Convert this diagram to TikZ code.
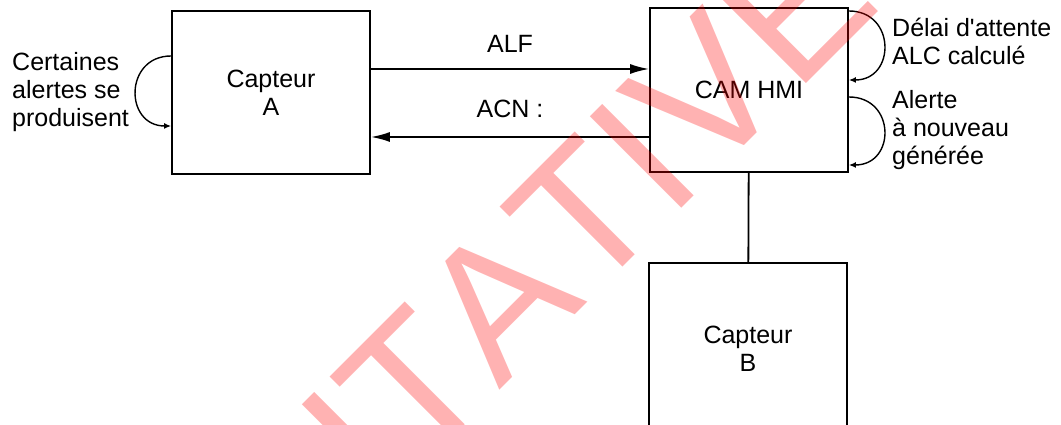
\documentclass[tikz,border=0pt]{standalone}
\usepackage{fontspec}
\setmainfont{Liberation Sans}
\newfontfamily\stampfont[Kerning=Off]{Liberation Sans}
\usepackage{tikz}
\usetikzlibrary{
  arrows.meta,
  positioning,
  calc
}
\tikzset{>={Latex[length=19pt, width=10pt]}}
\tikzset{font=\fontsize{25pt}{28pt}\selectfont}
\tikzset{sensorbox/.style={draw, line width=1.8pt, minimum width=198pt,
    minimum height=163pt, align=center, inner sep=0pt}}
\tikzset{looparrow/.style={line width=1.4pt, -{Latex[length=7pt, width=6pt]}}}
\tikzset{loopnote/.style={anchor=north west, align=left, inner sep=0pt}}
\tikzset{stamp/.style={text=red, text opacity=0.3, rotate=45, anchor=base west,
    inner sep=0pt, font=\stampfont\fontsize{188pt}{188pt}\selectfont}}

\begin{document}
\begin{tikzpicture}[x=1pt, y=1pt]
  \useasboundingbox (0, 0) rectangle (1061, 425);%
  \clip (0, 0) rectangle (1061, 425);%
  \node [sensorbox] (capA) at (271, 332.5) {Capteur\\A};%
  \node [sensorbox, minimum height=164pt] (cam) at (749, 335) {CAM HMI};%
  \node [sensorbox, minimum height=171pt] (capB) at (748, 76.5) {Capteur\\B};%
  \draw [line width=1.8pt] (cam) -- (capB);%
  % messages between the sensor and the HMI
  \draw [->, line width=1.8pt] ([yshift=23.5pt]capA.east) -- node[above=16pt, inner sep=0pt] (alf) {ALF} ([yshift=23.5pt]capA.east -| cam.west);%
  \draw [->, line width=1.8pt] ([yshift=-47pt]cam.west) -- node[above=18pt, inner sep=0pt] (acn) {ACN :} ([yshift=-47pt]cam.west -| capA.east);%
  % self loops
  \draw [looparrow] ([yshift=36.5pt]capA.west) .. controls +(-47, 0) and +(-47, 0) .. ([yshift=-33.5pt]capA.west);%
  \draw [looparrow] ([yshift=79pt]cam.east) .. controls +(47, 0) and +(47, 0) .. ([yshift=10pt]cam.east);%
  \draw [looparrow] ([yshift=-7pt]cam.east) .. controls +(47, 0) and +(47, 0) .. ([yshift=-75pt]cam.east);%
  \node [loopnote] (alerts) at (12, 373) {Certaines\\alertes se\\produisent};%
  \node [loopnote] (delay) at (892, 407.5) {Délai d\textquotesingle attente\\ALC calculé};%
  \node [loopnote] (again) at (892, 335) {Alerte\\à nouveau\\générée};%
  % watermark
  \node [stamp] (mark) at (381.5, -83.5) {ITATIVE};%
\end{tikzpicture}
\end{document}
